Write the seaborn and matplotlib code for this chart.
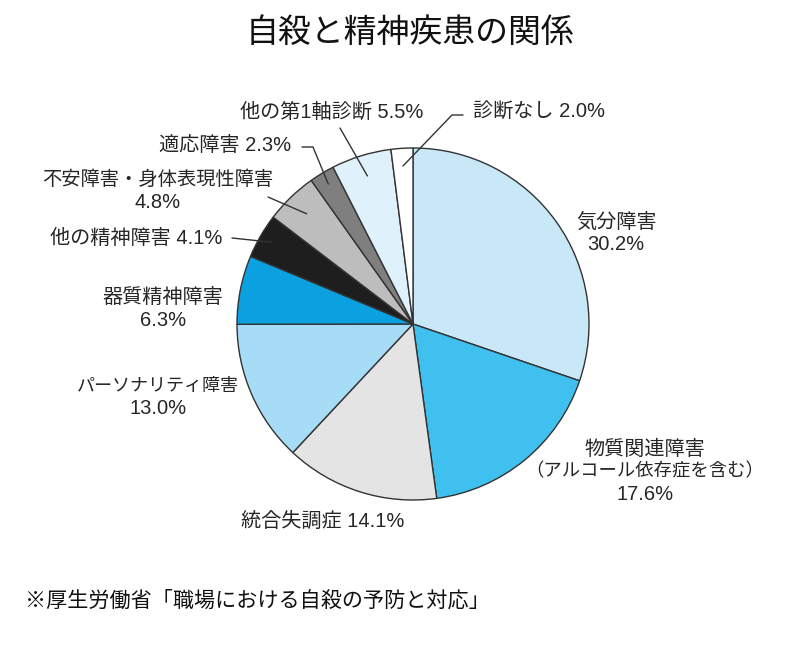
import numpy as np
import matplotlib
matplotlib.use("Agg")
import matplotlib.pyplot as plt
import seaborn as sns

# ---- data ----
categories = ["気分障害", "物質関連障害\n（アルコール依存症を含む）", "統合失調症", "パーソナリティ障害",
              "器質精神障害", "他の精神障害", "不安障害・身体表現性障害", "適応障害",
              "他の第1軸診断", "診断なし"]
values = [30.2, 17.6, 14.1, 13.0, 6.3, 4.1, 4.8, 2.3, 5.5, 2.0]
colors = ["#c8e8f8", "#40c0ee", "#e4e4e4", "#a6dcf6", "#0ba0e0",
          "#1e1e1e", "#bdbdbd", "#7f7f7f", "#dff2fb", "#ffffff"]
title = "自殺と精神疾患の関係"
source = "※厚生労働省「職場における自殺の予防と対応」"

sns.set_style("white")
plt.rcParams["font.family"] = ["Liberation Sans", "Noto Sans CJK JP", "DejaVu Sans"]

H = 645
def P(x, y):
    return (x, H - y)

fig = plt.figure(figsize=(8, 6.45), dpi=100)
ax = fig.add_axes([0, 0, 1, 1])
cx, cy = P(413, 324)
R = 176
wedges, _ = ax.pie(values, colors=sns.color_palette(colors), startangle=90, counterclock=False,
                   center=(cx, cy), radius=R, frame=True,
                   wedgeprops=dict(edgecolor="#333333", linewidth=1.0))
ax.set_xlim(0, 800)
ax.set_ylim(0, H)
ax.set_aspect("equal")
ax.axis("off")

fs = 14.5
TC = "#262626"

def txt(s, x, y, ha="center", size=fs):
    ax.text(*P(x, y), s, ha=ha, va="center", fontsize=size, color=TC)

def block(lines, sizes, x, y0, dy=23):
    for i, (s, sz) in enumerate(zip(lines, sizes)):
        txt(s, x, y0 + i * dy, size=sz)

pct = [f"{v:.1f}%" for v in values]

# labels (text layout positions)
block([categories[0], pct[0]], [fs, fs], 616, 222)
block(categories[1].split("\n") + [pct[1]], [fs, 13.2, fs], 645, 449)
txt(f"{categories[2]} {pct[2]}", 323, 521)
block([categories[3], pct[3]], [13.0, fs], 158, 386)
block([categories[4], pct[4]], [fs, fs], 163, 297)
txt(f"{categories[5]} {pct[5]}", 222, 238, ha="right")
block([categories[6], pct[6]], [13.9, fs], 158, 180)
txt(f"{categories[7]} {pct[7]}", 291, 145, ha="right")
txt(f"{categories[8]} {pct[8]}", 332, 112)
txt(f"{categories[9]} {pct[9]}", 473, 112, ha="left")

# leader lines: (wedge index, label-side points in px, radius fraction)
leaders = [
    (5, [(232, 238)], 0.93),
    (6, [(268, 197)], 0.87),
    (7, [(302, 147), (313, 147)], 0.93),
    (8, [(340, 128)], 0.88),
    (9, [(463, 115), (452, 115)], 0.90),
]
for idx, pts, rf in leaders:
    w = wedges[idx]
    ang = np.deg2rad((w.theta1 + w.theta2) / 2)
    ex, ey = cx + rf * R * np.cos(ang), cy + rf * R * np.sin(ang)
    xs = [P(*p)[0] for p in pts] + [ex]
    ys = [P(*p)[1] for p in pts] + [ey]
    ax.plot(xs, ys, color="#333333", linewidth=1.0)

ax.text(*P(410, 33), title, ha="center", va="center", fontsize=23.7, color="#111111")
ax.text(*P(25, 600), source, ha="left", va="center", fontsize=15.2, color="#111111")

fig.savefig("out.png", dpi=100, facecolor="white")
